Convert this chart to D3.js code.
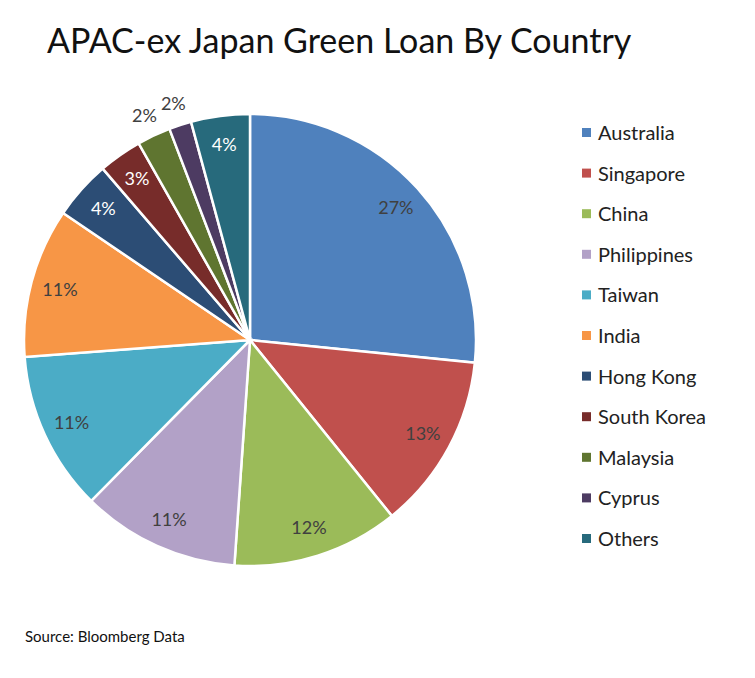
<!DOCTYPE html>
<html>
<head>
<meta charset="utf-8">
<script src="https://cdn.jsdelivr.net/npm/d3@7"></script>
<style>
  body { margin: 0; background: #fff; }
  text { font-family: Lato, "Open Sans", sans-serif; }
</style>
</head>
<body>
<div id="chart"></div>
<script>
// data (share of total, %)
var countries = ["Australia", "Singapore", "China", "Philippines", "Taiwan", "India",
                 "Hong Kong", "South Korea", "Malaysia", "Cyprus", "Others"];
var shares = [26.6, 12.6, 11.9, 11.3, 11.4, 10.7, 4.2, 3.1, 2.4, 1.6, 4.2];
var colors = ["#4f81bd", "#c0504d", "#9bbb59", "#b2a1c7", "#4bacc6", "#f79646",
              "#2c4d75", "#772c2a", "#5f7530", "#4d3b62", "#276a7c"];
var darkSlices = ["Hong Kong", "South Korea", "Others"];

var width = 755, height = 678;
var cx = 250, cy = 340, radius = 226;

var svg = d3.select("#chart").append("svg")
  .attr("width", width)
  .attr("height", height);

svg.append("text")
  .attr("x", 47)
  .attr("y", 53)
  .attr("font-size", "34px")
  .attr("fill", "#111")
  .text("APAC-ex Japan Green Loan By Country");

var data = countries.map(function(c, i){ return {name: c, value: shares[i], color: colors[i]}; });
var total = d3.sum(shares);

var pie = d3.pie().sort(null).value(function(d){ return d.value; });
var arc = d3.arc().innerRadius(0).outerRadius(radius);
var arcs = pie(data);

var g = svg.append("g").attr("transform", "translate(" + cx + "," + cy + ")");

g.selectAll("path.slice")
  .data(arcs)
  .enter().append("path")
  .attr("class", "slice")
  .attr("d", arc)
  .attr("fill", function(d){ return d.data.color; })
  .attr("stroke", "#fff")
  .attr("stroke-width", 2.5);

// small slices get their label outside the pie
var inner = d3.arc().innerRadius(radius * 0.87).outerRadius(radius * 0.87);
var outer = d3.arc().innerRadius(radius + 22).outerRadius(radius + 22);

g.selectAll("text.pct")
  .data(arcs)
  .enter().append("text")
  .attr("class", "pct")
  .attr("transform", function(d){
    var p = d.data.value < 3 ? outer.centroid(d) : inner.centroid(d);
    return "translate(" + p[0] + "," + p[1] + ")";
  })
  .attr("text-anchor", "middle")
  .attr("dy", "0.35em")
  .attr("font-size", "18px")
  .attr("fill", function(d){
    return (darkSlices.indexOf(d.data.name) >= 0 && d.data.value >= 3) ? "#fff" : "#404040";
  })
  .text(function(d){ return Math.round(d.data.value / total * 100) + "%"; });

// legend
var legend = svg.append("g").attr("transform", "translate(582,133)");
var row = legend.selectAll("g.row")
  .data(data)
  .enter().append("g")
  .attr("class", "row")
  .attr("transform", function(d, i){ return "translate(0," + (i * 40.6) + ")"; });

row.append("rect")
  .attr("x", 0)
  .attr("y", -5)
  .attr("width", 9)
  .attr("height", 9)
  .attr("fill", function(d){ return d.color; });

row.append("text")
  .attr("x", 16)
  .attr("dy", "0.35em")
  .attr("font-size", "20px")
  .attr("fill", "#222")
  .text(function(d){ return d.name; });

svg.append("text")
  .attr("x", 25)
  .attr("y", 642)
  .attr("font-size", "15px")
  .attr("fill", "#111")
  .text("Source: Bloomberg Data");
</script>
</body>
</html>
